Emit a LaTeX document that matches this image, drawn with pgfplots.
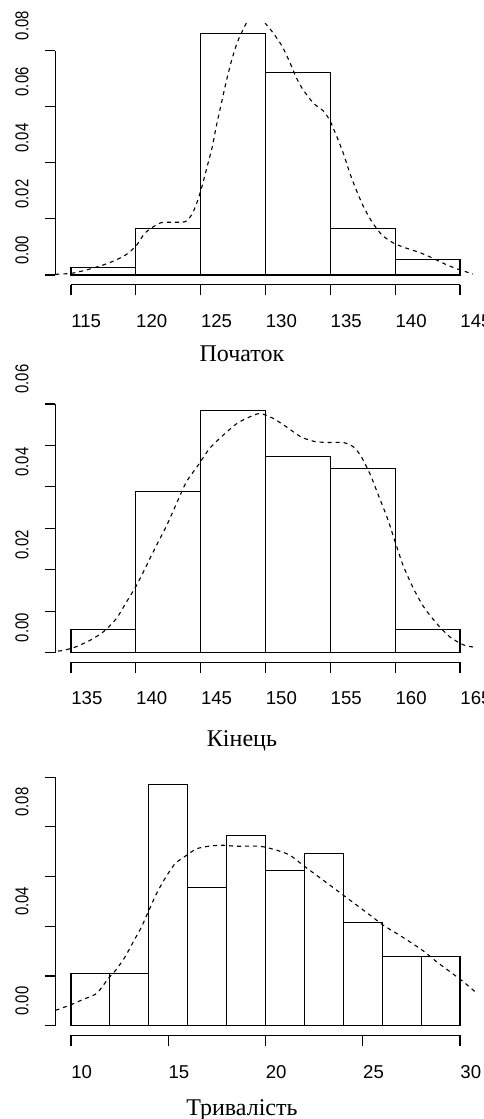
\documentclass[border=0pt]{standalone}
\usepackage{fontspec}
\setmainfont{Liberation Serif}
\newfontfamily\arialfont{Liberation Sans}
\usepackage{pgfplots}
\pgfplotsset{compat=1.18}

% R-style histogram panel, 1 px of the reference = 0.5pt
\pgfplotsset{
  rhist/.style={
    scale only axis, width=210.1pt, height=130.5pt, anchor=south west,
    axis x line*=bottom, axis y line*=left,
    axis line style={draw=none},
    clip mode=individual,
    scaled y ticks=false,
    tick align=outside, major tick length=5.3pt,
    tick style={black, line width=0.55pt},
    xticklabel style={font=\arialfont\fontsize{9.3}{10}\selectfont, inner sep=0pt, anchor=base west, yshift=-16.05pt},
    yticklabel style={font=\arialfont\fontsize{9.3}{10}\selectfont, inner sep=0pt, xshift=-8.25pt, yshift=5pt, rotate=90, anchor=base west, xscale=0.8},
    xlabel style={font=\fontsize{12}{14}\selectfont, at={(rel axis cs:0.444,0)}, anchor=base, inner sep=0pt},
  },
  bars/.style={ybar interval, fill=white, draw=black, line width=0.55pt},
  dens/.style={black, line width=0.55pt, dash pattern=on 2pt off 2pt, smooth, tension=0.4, no marks},
}

\begin{document}
\begin{tikzpicture}
\useasboundingbox (0,0) rectangle (241.5pt,559.5pt);
\clip (0,0) rectangle (241.5pt,559.5pt);

% Початок
\begin{axis}[rhist, at={(27.7pt,417.15pt)},
  xmin=113.8, xmax=146.2, ymin=-0.0034444, ymax=0.0895556,
  xtick={115,120,125,130,135,140,145}, xticklabels={115,120,125,130,135,140,145},
  ytick={0,0.02,0.04,0.06,0.08}, yticklabels={0.00,0.02,0.04,0.06,0.08},
  xlabel={Початок}, xlabel style={yshift=-38.35pt}]
\addplot[bars] coordinates {(115,0.0027778) (120,0.0166667) (125,0.0861111) (130,0.0722222) (135,0.0166667) (140,0.0055556) (145,0)};
\addplot[dens] coordinates {(113.8,0.0002) (114.15,0.00036) (115.05,0.0006) (116.2,0.0018) (117.5,0.0036) (118.5,0.0054) (119.4,0.0077) (120.07,0.0107) (120.7,0.0149) (121.35,0.0172) (122.0,0.0187) (122.9,0.0188) (123.8,0.0190) (124.3,0.0214) (124.7,0.0256) (125.1,0.0315) (125.5,0.0386) (125.9,0.0458) (126.2,0.0529) (126.6,0.0612) (127.0,0.0695) (127.4,0.0767) (127.8,0.0826) (128.2,0.0868) (128.6,0.0903) (129.3,0.0935) (129.97,0.0898) (130.6,0.0862) (131.3,0.0814) (131.9,0.0755) (132.4,0.0701) (132.9,0.0660) (133.7,0.0612) (134.5,0.0583) (135.0,0.0547) (135.5,0.0493) (136.0,0.0434) (136.5,0.0363) (137.0,0.0303) (137.55,0.0244) (138.2,0.0190) (138.97,0.0143) (139.9,0.0113) (140.9,0.0095) (141.9,0.0080) (142.95,0.0059) (143.99,0.0036) (145.0,0.0018) (146.0,0.0004)};
\draw[line width=0.55pt] (axis cs:115,-0.0034444) -- (axis cs:145,-0.0034444);
\draw[line width=0.55pt] (axis cs:113.8,0) -- (axis cs:113.8,0.08);
\end{axis}

% Кінець
\begin{axis}[rhist, at={(27.7pt,228.4pt)},
  xmin=133.8, xmax=166.2, ymin=-0.0023333, ymax=0.0606667,
  xtick={135,140,145,150,155,160,165}, xticklabels={135,140,145,150,155,160,165},
  ytick={0,0.01,0.02,0.03,0.04,0.05,0.06}, yticklabels={0.00,,0.02,,0.04,,0.06},
  xlabel={Кінець}, xlabel style={yshift=-42pt}]
\addplot[bars] coordinates {(135,0.0055556) (140,0.0388889) (145,0.0583333) (150,0.0472222) (155,0.0444444) (160,0.0055556) (165,0)};
\addplot[dens] coordinates {(133.4,0.0002) (134.4,0.0005) (135.4,0.0014) (136.5,0.0030) (137.5,0.0050) (138.5,0.0082) (139.3,0.0123) (140.07,0.0163) (140.84,0.0211) (141.6,0.0259) (142.4,0.0308) (143.2,0.0364) (143.9,0.0412) (144.8,0.0452) (145.7,0.0493) (146.75,0.0525) (147.8,0.0553) (148.8,0.0569) (149.6,0.0577) (150.6,0.0565) (151.6,0.0545) (152.7,0.0521) (153.7,0.0510) (154.7,0.0507) (156.0,0.0507) (156.8,0.0496) (157.4,0.0472) (158.1,0.0428) (158.7,0.0380) (159.4,0.0324) (160.0,0.0267) (160.6,0.0211) (161.4,0.0155) (162.2,0.0110) (163.2,0.0070) (164.2,0.0038) (165.3,0.0018) (166.3,0.0012)};
\draw[line width=0.55pt] (axis cs:135,-0.0023333) -- (axis cs:165,-0.0023333);
\draw[line width=0.55pt] (axis cs:133.8,0) -- (axis cs:133.8,0.06);
\end{axis}

% Тривалість
\begin{axis}[rhist, at={(27.7pt,41.8pt)},
  xmin=9.2, xmax=30.8, ymin=-0.0038889, ymax=0.1011111,
  xtick={10,15,20,25,30}, xticklabels={10,15,20,25,30},
  ytick={0,0.02,0.04,0.06,0.08,0.10}, yticklabels={0.00,,0.04,,0.08,},
  xlabel={Тривалість}, xlabel style={yshift=-39.8pt}]
\addplot[bars] coordinates {(10,0.0208333) (12,0.0208333) (14,0.0972222) (16,0.0555556) (18,0.0763889) (20,0.0625) (22,0.0694444) (24,0.0416667) (26,0.0277778) (28,0.0277778) (30,0)};
\addplot[dens] coordinates {(9.2,0.0062) (9.35,0.0066) (9.95,0.0083) (10.63,0.0106) (11.32,0.0130) (11.92,0.0190) (12.35,0.0228) (12.78,0.0277) (13.2,0.0337) (13.63,0.0398) (13.97,0.0458) (14.4,0.0532) (14.83,0.0592) (15.35,0.0652) (15.95,0.0686) (16.46,0.0712) (17.15,0.0723) (17.83,0.0726) (18.5,0.0722) (19.72,0.0722) (20.58,0.0706) (21.26,0.0686) (21.94,0.0645) (22.63,0.0605) (23.32,0.0565) (24.0,0.0525) (24.69,0.0485) (25.37,0.0445) (26.06,0.0404) (26.75,0.0371) (27.43,0.0337) (28.11,0.0301) (28.8,0.0257) (29.49,0.0217) (30.17,0.0177) (30.77,0.0137)};
\draw[line width=0.55pt] (axis cs:10,-0.0038889) -- (axis cs:30,-0.0038889);
\draw[line width=0.55pt] (axis cs:9.2,0) -- (axis cs:9.2,0.10);
\end{axis}
\end{tikzpicture}
\end{document}
